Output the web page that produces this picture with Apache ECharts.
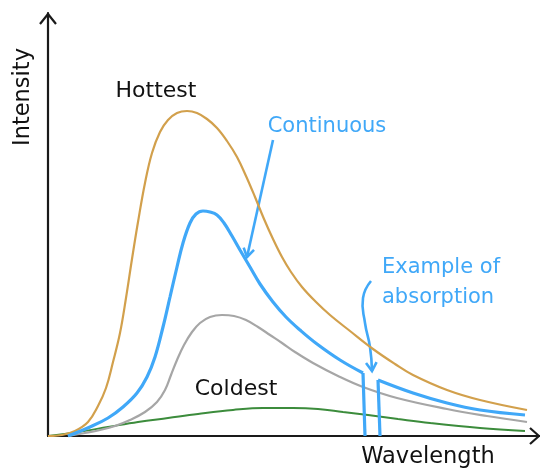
<!DOCTYPE html>
<html><head><meta charset="utf-8">
<script src="https://cdn.jsdelivr.net/npm/echarts@6/dist/echarts.min.js"></script>
<style>html,body{margin:0;padding:0;background:#fff}#c{width:540px;height:468px}</style>
</head><body><div id="c"></div>
<script>
// values: [wavelength, intensity] in arbitrary units
const hottest = [[0,0],[14,1],[27,5],[40,14],[50,30],[58,48],[65,74],[72,103],[78,138],[84,177],[90,214],[97,253],[104,283],[112,304],[120,316],[129,323],[139,325],[149,323],[159,317],[169,308],[179,295],[189,279],[198,260],[207,239],[216,217],[225,197],[234,179],[243,164],[254,149],[267,135],[282,121],[302,105],[325,87],[347,72],[365,61],[399,46],[432,36],[479,26]];
const continuousLeft = [[20,0],[42,9],[60,18],[75,29],[89,43],[99,59],[107,79],[115,109],[122,139],[129,169],[135,193],[142,213],[148,222],[155,225],[162,224],[169,221],[176,213],[184,200],[192,186],[202,169],[212,152],[225,134],[238,119],[252,106],[269,92],[292,76],[315,63]];
const continuousRight = [[330,56],[365,43],[399,33],[432,26],[477,21]];
const absorptionFoot = [317, 332]; // wavelengths where the absorption line meets zero
const middle = [[20,0],[37,3],[52,6],[67,10],[82,16],[97,24],[109,34],[117,46],[123,61],[129,76],[136,91],[144,104],[152,113],[162,119],[174,121],[186,120],[198,116],[210,109],[222,101],[234,93],[247,84],[265,73],[290,60],[315,49],[349,38],[399,27],[439,20],[479,14]];
const coldest = [[0,0],[30,4],[60,9],[90,14],[120,18],[150,22],[185,26],[215,28],[245,28],[270,27],[295,24],[320,21],[350,17],[382,13],[432,8],[477,5]];
const continuousArrow = [[225,296],[199,179]];
const absorptionArrow = [[323,155],[315,138],[317,113],[322,89],[324,65]];

const GOLD = '#D2A04C', BLUE = '#40A8F8', GRAY = '#A6A6A6', GREEN = '#3C8C3C';
const FONT = '"DejaVu Sans", sans-serif';

const chart = echarts.init(document.getElementById('c'), null, {renderer: 'canvas'});
const lineSeries = (data, color, width, smooth) => ({
  type: 'line', data, smooth, showSymbol: false, symbol: 'none', silent: true,
  lineStyle: {color, width}, z: 3
});
chart.setOption({
  animation: false,
  backgroundColor: '#fff',
  grid: {left: 48, right: 0, top: 13, bottom: 32},
  xAxis: {type: 'value', min: 0, max: 492, axisLine: {show: true, onZero: false, lineStyle: {color: '#1a1a1a', width: 2.2}},
    axisTick: {show: false}, axisLabel: {show: false}, splitLine: {show: false}},
  yAxis: {type: 'value', min: 0, max: 423, axisLine: {show: true, onZero: false, lineStyle: {color: '#1a1a1a', width: 2.2}},
    axisTick: {show: false}, axisLabel: {show: false}, splitLine: {show: false}},
  series: [
    lineSeries(coldest, GREEN, 2, 0.4),
    lineSeries(middle, GRAY, 2.2, 0.4),
    lineSeries(hottest, GOLD, 2.2, 0.4),
    lineSeries(continuousLeft, BLUE, 3.2, 0.4),
    lineSeries([continuousLeft[continuousLeft.length-1], [absorptionFoot[0], 0]], BLUE, 3.2, false),
    lineSeries([[absorptionFoot[1], 0], continuousRight[0]], BLUE, 3.2, false),
    lineSeries(continuousRight, BLUE, 3.2, 0.4)
  ]
});

const px = p => chart.convertToPixel({gridIndex: 0}, p);
function head(tip, from, len, ang) {
  const dx = from[0]-tip[0], dy = from[1]-tip[1], L = Math.hypot(dx, dy);
  const ux = dx/L, uy = dy/L, r = ang*Math.PI/180;
  const rot = a => [tip[0] + len*(ux*Math.cos(a) - uy*Math.sin(a)), tip[1] + len*(ux*Math.sin(a) + uy*Math.cos(a))];
  return [rot(r), tip, rot(-r)];
}
const ca = continuousArrow.map(px);
const aa = absorptionArrow.map(px);
const xe = px([492,0]), ye = px([0,423]);
const txt = (text, x, y, color, size, align, rotation) => ({
  type: 'text', x, y, rotation: rotation || 0, silent: true, z: 10,
  style: {text, fill: color, font: size + 'px ' + FONT, textAlign: align || 'center', textVerticalAlign: 'middle'}
});
chart.setOption({graphic: [
  {type: 'polyline', shape: {points: [[xe[0]-10, xe[1]-8], [xe[0]-1, xe[1]], [xe[0]-10, xe[1]+8]]}, style: {stroke: '#1a1a1a', lineWidth: 2.2, fill: null}},
  {type: 'polyline', shape: {points: [[ye[0]-8, ye[1]+11], [ye[0], ye[1]+1], [ye[0]+8, ye[1]+11]]}, style: {stroke: '#1a1a1a', lineWidth: 2.2, fill: null}},
  {type: 'polyline', shape: {points: ca}, style: {stroke: BLUE, lineWidth: 2.6, fill: null}},
  {type: 'polyline', shape: {points: head(ca[1], ca[0], 10, 32)}, style: {stroke: BLUE, lineWidth: 2.6, fill: null}},
  {type: 'polyline', shape: {points: aa, smooth: 0.5}, style: {stroke: BLUE, lineWidth: 2.6, fill: null}},
  {type: 'polyline', shape: {points: head(aa[aa.length-1], aa[aa.length-2], 10, 32)}, style: {stroke: BLUE, lineWidth: 2.6, fill: null}},
  txt('Hottest', 156, 91, '#111', 22),
  txt('Coldest', 236, 389, '#111', 22),
  txt('Wavelength', 428, 457, '#111', 22.5),
  txt('Intensity', 23, 97, '#111', 22.5, 'center', Math.PI/2),
  txt('Continuous', 327, 127, BLUE, 21),
  txt('Example of', 382, 268, BLUE, 21, 'left'),
  txt('absorption', 382, 298, BLUE, 21, 'left')
]});
</script>
</body></html>
